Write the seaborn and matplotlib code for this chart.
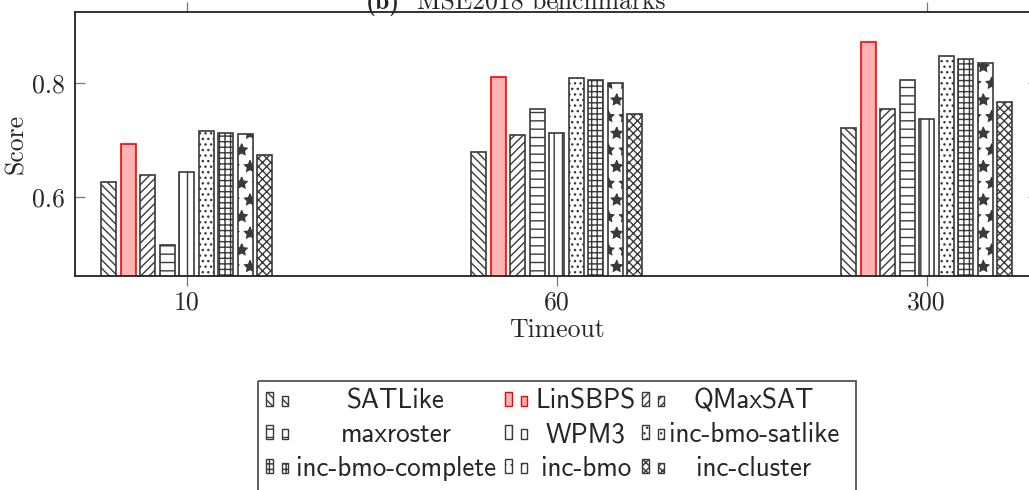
import pandas as pd
import numpy as np
import seaborn as sns
import matplotlib.pyplot as plt
from matplotlib.patches import Rectangle

# Data (MSE2018 benchmarks)
timeouts = ["10", "60", "300"]
solvers = ["SATLike", "LinSBPS", "QMaxSAT", "maxroster", "WPM3",
           "inc-bmo-satlike", "inc-bmo-complete", "inc-bmo", "inc-cluster"]
score_10 = [0.626, 0.692, 0.638, 0.516, 0.644, 0.716, 0.712, 0.710, 0.674]
score_60 = [0.678, 0.810, 0.709, 0.754, 0.711, 0.808, 0.804, 0.799, 0.746]
score_300 = [0.720, 0.872, 0.754, 0.804, 0.737, 0.847, 0.841, 0.834, 0.766]

# pattern per solver (pgfplots-like)
hatches = ["\\\\\\\\", "", "////", "--", "||", "...", "+++", "*", "xxxx"]
faces = ["white", "#ffb3b3", "white", "white", "white", "white", "white", "white", "white"]
edges = ["#3a3a3a", "red", "#3a3a3a", "#3a3a3a", "#3a3a3a", "#3a3a3a", "#3a3a3a", "#3a3a3a", "#3a3a3a"]

rows = []
for t, vals in zip(timeouts, [score_10, score_60, score_300]):
    for s, v in zip(solvers, vals):
        rows.append({"Timeout": t, "Score": v, "solver": s})
df = pd.DataFrame(rows)

sns.set_style("white")
plt.rcParams['font.family'] = ['cmr10', 'DejaVu Serif']
plt.rcParams['font.size'] = 18.5
plt.rcParams['hatch.color'] = 'black'
plt.rcParams['hatch.linewidth'] = 1.0

W, H = 1029, 490
fig = plt.figure(figsize=(W / 100, H / 100), dpi=100)
# axes box runs slightly past the right edge, as in the cropped original
ax = fig.add_axes([75 / W, (H - 275.5) / H, (1038 - 75) / W, (275.5 - 11.7) / H])

sns.barplot(data=df, x="Timeout", y="Score", hue="solver", order=timeouts,
            hue_order=solvers, palette=["white"] * len(solvers), width=0.474,
            gap=0.23, errorbar=None, legend=False, ax=ax)

for cont, h, fc, ec in zip(ax.containers, hatches, faces, edges):
    for bar in cont:
        bar.set_facecolor(fc)
        bar.set_edgecolor(ec)
        bar.set_hatch(h)
        bar.set_linewidth(1.2)

ax.set_xlim(-0.302, 2.301)
ax.set_ylim(0.4618, 0.9246)
ax.set_yticks([0.6, 0.8])
ax.set_yticklabels(["0.6", "0.8"])
ax.set_xlabel("Timeout", labelpad=3)
ax.set_ylabel("Score", labelpad=3)

for sp in ax.spines.values():
    sp.set_visible(True)
    sp.set_color("#222222")
    sp.set_linewidth(1.3)
ax.tick_params(axis='x', direction='out', length=7, width=0.9, color='#777777',
               top=True, bottom=True, labeltop=False, pad=4)
ax.tick_params(axis='y', direction='in', length=7, width=0.9, color='#777777',
               left=True, right=True, labelright=False, pad=7)

# title, cut off at top in the original
fig.text(366 / W, 1 - 9 / H, "(b)", family='cmb10', fontsize=18.5, va='baseline', ha='left')
fig.text(417 / W, 1 - 9 / H, "MSE2018 benchmarks", fontsize=18.5, va='baseline', ha='left')

# legend box drawn by hand (3 columns, two bar icons + centred text)
lax = fig.add_axes([0, 0, 1, 1])
lax.set_xlim(0, W)
lax.set_ylim(H, 0)
lax.axis('off')
lax.add_patch(Rectangle((258.3, 381), 597.7, 140, facecolor='none',
                        edgecolor='#444444', linewidth=1.2, clip_on=False))
icon_x = [266, 505, 642]
text_x = [396, 586, 754]
base_y = [408.5, 442, 475.5]
for i, s in enumerate(solvers):
    r, c = i // 3, i % 3
    bottom = base_y[r] - 3
    lax.add_patch(Rectangle((icon_x[c], bottom - 14), 6.5, 14, facecolor=faces[i],
                            edgecolor=edges[i], hatch=hatches[i], linewidth=1.0))
    lax.add_patch(Rectangle((icon_x[c] + 15.5, bottom - 10), 6.5, 10, facecolor=faces[i],
                            edgecolor=edges[i], hatch=hatches[i], linewidth=1.0))
    lax.text(text_x[c], base_y[r], s, family='cmss10', fontsize=19.5,
             ha='center', va='baseline')

fig.savefig("out.png", dpi=100)
